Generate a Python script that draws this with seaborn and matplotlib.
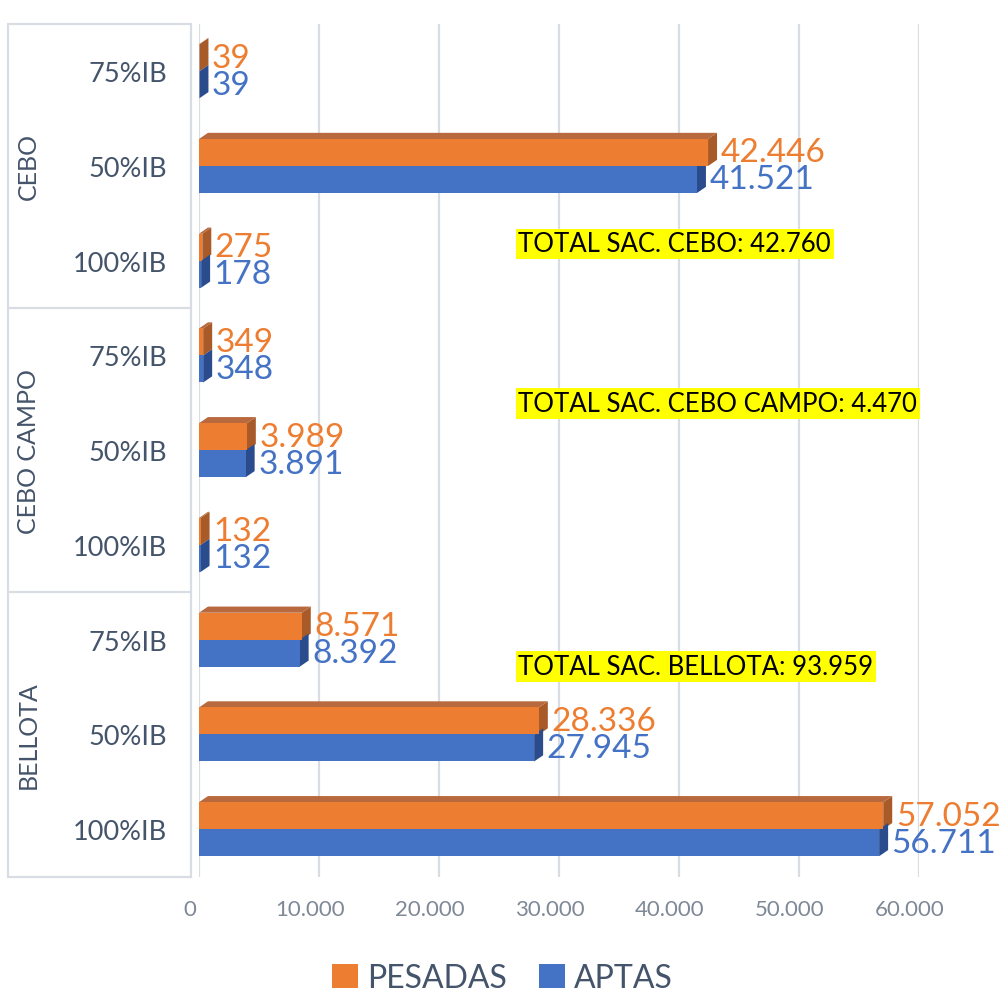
import matplotlib.pyplot as plt
import seaborn as sns
import pandas as pd
from matplotlib.patches import Patch, Polygon
from matplotlib.transforms import blended_transform_factory, ScaledTranslation

# data
GROUPS = ["CEBO", "CEBO CAMPO", "BELLOTA"]
SUBCATS = ["75%IB", "50%IB", "100%IB"]
PESADAS = [39, 42446, 275, 349, 3989, 132, 8571, 28336, 57052]
APTAS = [39, 41521, 178, 348, 3891, 132, 8392, 27945, 56711]
TOTALS = [42760, 4470, 93959]
SERIES = ["PESADAS", "APTAS"]
XTICKS = [0, 10000, 20000, 30000, 40000, 50000, 60000]

COLORS = ["#ED7D31", "#4472C4"]
SIDE_COLORS = ["#A85A28", "#2B4C8C"]
TOP_COLOR = "#B8693E"
TEXT_COLOR = "#44546A"
GRID_COLOR = "#D9DCE3"


def miles(v):
    return f"{int(round(v)):,}".replace(",", ".")


rows = [f"{g}|{s}" for g in GROUPS for s in SUBCATS]
df = pd.DataFrame({
    "row": rows * 2,
    "serie": [SERIES[0]] * len(rows) + [SERIES[1]] * len(rows),
    "valor": PESADAS + APTAS,
})

sns.set_theme(style="white")
plt.rcParams["font.family"] = ["Lato", "DejaVu Sans"]

fig = plt.figure(figsize=(10.05, 9.95), dpi=100)
ax = fig.add_axes([0.198, 0.118, 0.716, 0.857])

sns.barplot(data=df, y="row", x="valor", hue="serie", order=rows, hue_order=SERIES,
            palette=COLORS, saturation=1, width=0.57, orient="h", errorbar=None,
            legend=False, ax=ax, zorder=2, linewidth=0)

ax.set_xticks(XTICKS)
ax.set_xticklabels([miles(t) for t in XTICKS])
ax.xaxis.grid(True, color=GRID_COLOR, lw=1.6, zorder=0)
ax.set_axisbelow(True)
for s in ax.spines.values():
    s.set_visible(False)
ax.set_xlabel("")
ax.set_ylabel("")
ax.tick_params(axis="x", length=0, pad=16, labelsize=16, labelcolor="#7F8896")
ax.tick_params(axis="y", length=0, pad=23, labelsize=19.5, labelcolor=TEXT_COLOR)
ax.set_yticks(range(len(rows)))
ax.set_yticklabels([r.split("|")[1] for r in rows])
# tick labels sit on the front edge of the 3D floor, a bit to the left
shift = ScaledTranslation(-9 / 100, 0, fig.dpi_scale_trans)
for lab in ax.get_xticklabels():
    lab.set_transform(lab.get_transform() + shift)

# fake 3D depth on the bars (derived from each bar patch)
dx, dy = 750, 0.065
for k, cont in enumerate(ax.containers):
    for p in cont.patches:
        x0, yt, w, h = p.get_x(), p.get_y(), p.get_width(), p.get_height()
        xe, yb = x0 + w, yt + h
        side = Polygon([(xe, yt), (xe + dx, yt - dy), (xe + dx, yb - dy), (xe, yb)],
                       closed=True, fc=SIDE_COLORS[k], ec="none", zorder=1.5)
        ax.add_patch(side)
        if k == 0:
            top = Polygon([(x0, yt), (x0 + dx, yt - dy), (xe + dx, yt - dy), (xe, yt)],
                          closed=True, fc=TOP_COLOR, ec="none", zorder=1.5)
            ax.add_patch(top)
    ax.bar_label(cont, labels=[miles(v) for v in cont.datavalues], padding=9,
                 fontsize=24, color=COLORS[k])

ax.set_xlim(0, 60000)
ax.set_ylim(len(rows) - 0.5, -0.5)

# left frame with the group labels
trans = blended_transform_factory(fig.transFigure, ax.transData)
xl, xr = 8 / 1005, 191 / 1005
ax.plot([xl, xl], [-0.5, len(rows) - 0.5], transform=trans, color=GRID_COLOR, lw=1.6, clip_on=False)
ax.plot([xr, xr], [-0.5, len(rows) - 0.5], transform=trans, color=GRID_COLOR, lw=1.6, clip_on=False)
for i, g in enumerate(GROUPS):
    ax.plot([xl, xr], [3 * i - 0.5, 3 * i - 0.5], transform=trans, color=GRID_COLOR, lw=1.6, clip_on=False)
    ax.text(28 / 1005, 3 * i + 1, g, transform=trans, rotation=90, ha="center", va="center",
            fontsize=18, color=TEXT_COLOR)
ax.plot([xl, xr], [len(rows) - 0.5] * 2, transform=trans, color=GRID_COLOR, lw=1.6, clip_on=False)

# totals in yellow boxes
for g, t, yy in zip(GROUPS, TOTALS, [0.742, 0.555, 0.246]):
    ax.text(0.444, yy, f"TOTAL SAC. {g}: {miles(t)}", transform=ax.transAxes, ha="left", va="center",
            fontsize=18.5, color="black", bbox=dict(fc="#FFFF00", ec="none", pad=2))

handles = [Patch(fc=c, ec="none") for c in COLORS]
leg = fig.legend(handles, SERIES, loc="lower center", bbox_to_anchor=(0.5, -0.028), ncol=2, frameon=False,
                 fontsize=23, handlelength=0.8, handleheight=0.8, handletextpad=0.3, columnspacing=1.0)
for t in leg.get_texts():
    t.set_color(TEXT_COLOR)

fig.savefig("out.png", dpi=100)
